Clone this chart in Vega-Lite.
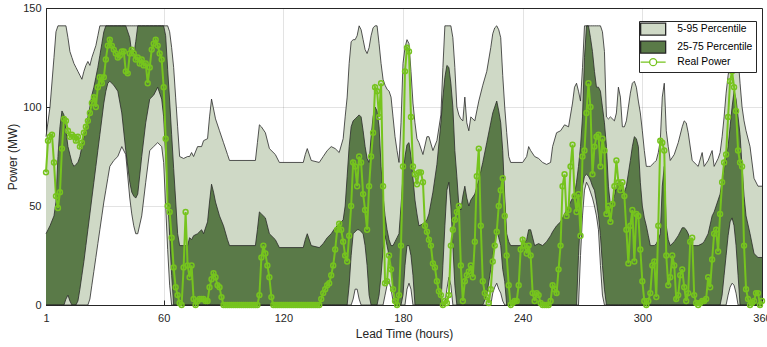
{
"$schema": "https://vega.github.io/schema/vega-lite/v6.json",
"width": 716, "height": 297,
"autosize": {"type": "none"},
"padding": {"left": 46, "top": 8, "right": 5, "bottom": 42},
"background": "white",
"config": {"font": "Liberation Sans", "view": {"stroke": "#262626", "strokeWidth": 1},
  "axis": {"labelFontSize": 11, "titleFontSize": 12, "titleFontWeight": "normal", "labelColor": "#262626", "titleColor": "#262626", "domainColor": "#262626", "tickColor": "#262626", "grid": true, "gridColor": "#262626", "gridOpacity": 0.13, "zindex": 1, "ticks": true, "tickSize": -5},
  "legend": {"orient": "none", "legendX": 593, "legendY": 13, "direction": "vertical",
    "fillColor": "white", "strokeColor": "#262626", "padding": 3, "rowPadding": 0,
    "labelFontSize": 10.3, "labelColor": "#000000", "labelOffset": 19, "symbolOffset": 6, "symbolSize": 64, "symbolOpacity": 1, "symbolStrokeWidth": 1.3}},
"datasets": {
"bands": [
{"h":1,"p5":0,"p25":0,"p75":36,"p95":85},{"h":3,"p5":0,"p25":0,"p75":40,"p95":100},{"h":5,"p5":0,"p25":0,"p75":45,"p95":125},{"h":6,"p5":0,"p25":0,"p75":52,"p95":138},{"h":7,"p5":0,"p25":0,"p75":75,"p95":141},{"h":8,"p5":0,"p25":0,"p75":90,"p95":141},{"h":9,"p5":0,"p25":0,"p75":98,"p95":141},{"h":10,"p5":0,"p25":0,"p75":96,"p95":141},{"h":11,"p5":0,"p25":3,"p75":88,"p95":141},{"h":12,"p5":0,"p25":5,"p75":80,"p95":135},{"h":13,"p5":0,"p25":2,"p75":76,"p95":128},{"h":14,"p5":0,"p25":0,"p75":72,"p95":125},{"h":15,"p5":0,"p25":0,"p75":70,"p95":122},{"h":16,"p5":0,"p25":0,"p75":71,"p95":120},{"h":17,"p5":0,"p25":2,"p75":72,"p95":118},{"h":18,"p5":0,"p25":8,"p75":75,"p95":116},{"h":19,"p5":0,"p25":15,"p75":80,"p95":114},{"h":20,"p5":0,"p25":22,"p75":85,"p95":118},{"h":21,"p5":0,"p25":30,"p75":90,"p95":121},{"h":22,"p5":0,"p25":38,"p75":95,"p95":123},{"h":23,"p5":3,"p25":46,"p75":100,"p95":121},{"h":24,"p5":10,"p25":54,"p75":106,"p95":125},{"h":25,"p5":17,"p25":62,"p75":110,"p95":128},{"h":26,"p5":24,"p25":70,"p75":115,"p95":131},{"h":27,"p5":31,"p25":78,"p75":120,"p95":136},{"h":28,"p5":38,"p25":86,"p75":126,"p95":141},{"h":29,"p5":45,"p25":94,"p75":132,"p95":141},{"h":30,"p5":52,"p25":102,"p75":138,"p95":141},{"h":31,"p5":58,"p25":108,"p75":141,"p95":141},{"h":32,"p5":64,"p25":112,"p75":141,"p95":141},{"h":33,"p5":70,"p25":113,"p75":141,"p95":141},{"h":35,"p5":73,"p25":111,"p75":141,"p95":141},{"h":37,"p5":75,"p25":108,"p75":141,"p95":141},{"h":39,"p5":80,"p25":97,"p75":141,"p95":141},{"h":41,"p5":76,"p25":78,"p75":141,"p95":141},{"h":43,"p5":54,"p25":62,"p75":135,"p95":141},{"h":44,"p5":46,"p25":57,"p75":127,"p95":141},{"h":45,"p5":40,"p25":55,"p75":126,"p95":141},{"h":46,"p5":36,"p25":54,"p75":133,"p95":141},{"h":47,"p5":36,"p25":56,"p75":141,"p95":141},{"h":49,"p5":45,"p25":75,"p75":141,"p95":141},{"h":51,"p5":62,"p25":92,"p75":141,"p95":141},{"h":53,"p5":78,"p25":104,"p75":141,"p95":141},{"h":55,"p5":80,"p25":106,"p75":141,"p95":141},{"h":57,"p5":82,"p25":110,"p75":141,"p95":141},{"h":59,"p5":80,"p25":104,"p75":141,"p95":141},{"h":60,"p5":72,"p25":95,"p75":141,"p95":141},{"h":61,"p5":50,"p25":75,"p75":136,"p95":141},{"h":62,"p5":28,"p25":55,"p75":119,"p95":141},{"h":63,"p5":10,"p25":35,"p75":103,"p95":138},{"h":64,"p5":0,"p25":15,"p75":86,"p95":130},{"h":65,"p5":0,"p25":0,"p75":69,"p95":120},{"h":66,"p5":0,"p25":0,"p75":53,"p95":105},{"h":67,"p5":0,"p25":0,"p75":36,"p95":90},{"h":68,"p5":0,"p25":0,"p75":30,"p95":75},{"h":70,"p5":0,"p25":0,"p75":30,"p95":74},{"h":72,"p5":0,"p25":0,"p75":30,"p95":75},{"h":73,"p5":0,"p25":0,"p75":34,"p95":75},{"h":74,"p5":0,"p25":0,"p75":33,"p95":77},{"h":75,"p5":0,"p25":0,"p75":35,"p95":75},{"h":77,"p5":0,"p25":0,"p75":36,"p95":80},{"h":79,"p5":0,"p25":0,"p75":38,"p95":80},{"h":80,"p5":0,"p25":0,"p75":36,"p95":83},{"h":82,"p5":0,"p25":0,"p75":42,"p95":84},{"h":83,"p5":0,"p25":0,"p75":52,"p95":95},{"h":84,"p5":0,"p25":0,"p75":61,"p95":104},{"h":85,"p5":0,"p25":0,"p75":57,"p95":99},{"h":86,"p5":0,"p25":0,"p75":52,"p95":94},{"h":88,"p5":0,"p25":0,"p75":45,"p95":88},{"h":90,"p5":0,"p25":0,"p75":40,"p95":82},{"h":92,"p5":0,"p25":0,"p75":33,"p95":76},{"h":93,"p5":0,"p25":0,"p75":30,"p95":73},{"h":106,"p5":0,"p25":0,"p75":30,"p95":73},{"h":107,"p5":0,"p25":0,"p75":38,"p95":82},{"h":108,"p5":0,"p25":0,"p75":47,"p95":91},{"h":109,"p5":0,"p25":0,"p75":46,"p95":90},{"h":111,"p5":0,"p25":0,"p75":44,"p95":87},{"h":113,"p5":0,"p25":0,"p75":36,"p95":79},{"h":116,"p5":0,"p25":0,"p75":33,"p95":76},{"h":118,"p5":0,"p25":0,"p75":29,"p95":72},{"h":130,"p5":0,"p25":0,"p75":29,"p95":72},{"h":131,"p5":0,"p25":0,"p75":33,"p95":76},{"h":132,"p5":0,"p25":0,"p75":36,"p95":79},{"h":134,"p5":0,"p25":0,"p75":30,"p95":73},{"h":138,"p5":0,"p25":0,"p75":29,"p95":72},{"h":140,"p5":0,"p25":0,"p75":31,"p95":75},{"h":142,"p5":0,"p25":0,"p75":34,"p95":78},{"h":144,"p5":0,"p25":0,"p75":36,"p95":80},{"h":146,"p5":0,"p25":0,"p75":39,"p95":79},{"h":148,"p5":0,"p25":0,"p75":41,"p95":77},{"h":150,"p5":0,"p25":0,"p75":43,"p95":84},{"h":151,"p5":0,"p25":0,"p75":50,"p95":95},{"h":152,"p5":0,"p25":0,"p75":65,"p95":105},{"h":153,"p5":0,"p25":10,"p75":80,"p95":122},{"h":154,"p5":0,"p25":25,"p75":90,"p95":133},{"h":155,"p5":3,"p25":36,"p75":93,"p95":134},{"h":156,"p5":8,"p25":37,"p75":94,"p95":134},{"h":157,"p5":8,"p25":38,"p75":95,"p95":136},{"h":158,"p5":3,"p25":38,"p75":96,"p95":141},{"h":159,"p5":0,"p25":37,"p75":95,"p95":139},{"h":160,"p5":0,"p25":36,"p75":88,"p95":134},{"h":161,"p5":0,"p25":30,"p75":80,"p95":129},{"h":162,"p5":0,"p25":20,"p75":74,"p95":127},{"h":163,"p5":0,"p25":5,"p75":72,"p95":130},{"h":164,"p5":0,"p25":0,"p75":85,"p95":136},{"h":165,"p5":0,"p25":0,"p75":95,"p95":140},{"h":166,"p5":0,"p25":0,"p75":100,"p95":141},{"h":167,"p5":0,"p25":0,"p75":98,"p95":141},{"h":168,"p5":0,"p25":5,"p75":90,"p95":132},{"h":169,"p5":0,"p25":15,"p75":70,"p95":122},{"h":170,"p5":0,"p25":28,"p75":55,"p95":114},{"h":171,"p5":5,"p25":35,"p75":45,"p95":111},{"h":172,"p5":10,"p25":30,"p75":38,"p95":109},{"h":173,"p5":12,"p25":25,"p75":33,"p95":108},{"h":174,"p5":8,"p25":18,"p75":30,"p95":105},{"h":175,"p5":2,"p25":10,"p75":30,"p95":95},{"h":176,"p5":0,"p25":0,"p75":32,"p95":85},{"h":177,"p5":0,"p25":0,"p75":34,"p95":78},{"h":178,"p5":0,"p25":0,"p75":36,"p95":72},{"h":179,"p5":0,"p25":0,"p75":50,"p95":92},{"h":180,"p5":0,"p25":5,"p75":65,"p95":122},{"h":181,"p5":0,"p25":20,"p75":75,"p95":130},{"h":182,"p5":8,"p25":30,"p75":81,"p95":134},{"h":183,"p5":11,"p25":30,"p75":82,"p95":132},{"h":184,"p5":8,"p25":25,"p75":75,"p95":118},{"h":185,"p5":0,"p25":15,"p75":64,"p95":102},{"h":186,"p5":0,"p25":0,"p75":53,"p95":92},{"h":187,"p5":0,"p25":0,"p75":46,"p95":84},{"h":188,"p5":0,"p25":0,"p75":40,"p95":82},{"h":190,"p5":0,"p25":0,"p75":41,"p95":76},{"h":192,"p5":0,"p25":0,"p75":43,"p95":85},{"h":193,"p5":0,"p25":0,"p75":46,"p95":85},{"h":195,"p5":0,"p25":0,"p75":57,"p95":78},{"h":197,"p5":0,"p25":0,"p75":71,"p95":83},{"h":199,"p5":0,"p25":0,"p75":92,"p95":96},{"h":200,"p5":0,"p25":20,"p75":105,"p95":120},{"h":201,"p5":0,"p25":40,"p75":115,"p95":141},{"h":202,"p5":8,"p25":58,"p75":121,"p95":141},{"h":203,"p5":14,"p25":62,"p75":120,"p95":141},{"h":204,"p5":10,"p25":50,"p75":112,"p95":141},{"h":205,"p5":0,"p25":30,"p75":100,"p95":135},{"h":206,"p5":0,"p25":10,"p75":78,"p95":120},{"h":207,"p5":0,"p25":0,"p75":65,"p95":100},{"h":208,"p5":0,"p25":0,"p75":50,"p95":96},{"h":209,"p5":0,"p25":0,"p75":48,"p95":94},{"h":210,"p5":0,"p25":0,"p75":55,"p95":93},{"h":211,"p5":0,"p25":0,"p75":60,"p95":105},{"h":212,"p5":0,"p25":0,"p75":54,"p95":92},{"h":213,"p5":0,"p25":0,"p75":50,"p95":88},{"h":214,"p5":0,"p25":0,"p75":53,"p95":95},{"h":216,"p5":0,"p25":0,"p75":56,"p95":93},{"h":218,"p5":0,"p25":0,"p75":63,"p95":103},{"h":220,"p5":0,"p25":0,"p75":72,"p95":111},{"h":222,"p5":0,"p25":5,"p75":82,"p95":118},{"h":224,"p5":0,"p25":18,"p75":92,"p95":130},{"h":225,"p5":6,"p25":25,"p75":97,"p95":137},{"h":226,"p5":9,"p25":32,"p75":100,"p95":140},{"h":227,"p5":11,"p25":38,"p75":103,"p95":141},{"h":228,"p5":8,"p25":34,"p75":98,"p95":139},{"h":229,"p5":6,"p25":30,"p75":92,"p95":135},{"h":230,"p5":2,"p25":18,"p75":78,"p95":116},{"h":231,"p5":0,"p25":12,"p75":55,"p95":100},{"h":232,"p5":0,"p25":0,"p75":36,"p95":87},{"h":233,"p5":0,"p25":0,"p75":32,"p95":75},{"h":234,"p5":0,"p25":0,"p75":30,"p95":72},{"h":240,"p5":0,"p25":0,"p75":30,"p95":72},{"h":242,"p5":0,"p25":0,"p75":33,"p95":75},{"h":243,"p5":0,"p25":0,"p75":38,"p95":80},{"h":244,"p5":0,"p25":0,"p75":38,"p95":78},{"h":246,"p5":0,"p25":0,"p75":30,"p95":75},{"h":248,"p5":0,"p25":0,"p75":31,"p95":74},{"h":250,"p5":0,"p25":0,"p75":30,"p95":72},{"h":252,"p5":0,"p25":0,"p75":32,"p95":71},{"h":254,"p5":0,"p25":0,"p75":35,"p95":72},{"h":255,"p5":0,"p25":0,"p75":37,"p95":80},{"h":257,"p5":0,"p25":0,"p75":40,"p95":87},{"h":259,"p5":0,"p25":0,"p75":42,"p95":88},{"h":261,"p5":0,"p25":0,"p75":46,"p95":91},{"h":263,"p5":0,"p25":0,"p75":50,"p95":90},{"h":265,"p5":0,"p25":0,"p75":54,"p95":102},{"h":266,"p5":0,"p25":0,"p75":56,"p95":110},{"h":267,"p5":0,"p25":0,"p75":62,"p95":112},{"h":268,"p5":0,"p25":25,"p75":70,"p95":108},{"h":269,"p5":25,"p25":45,"p75":80,"p95":103},{"h":270,"p5":45,"p25":60,"p75":95,"p95":120},{"h":271,"p5":58,"p25":65,"p75":125,"p95":141},{"h":272,"p5":62,"p25":66,"p75":141,"p95":141},{"h":273,"p5":60,"p25":65,"p75":141,"p95":141},{"h":274,"p5":57,"p25":63,"p75":135,"p95":141},{"h":275,"p5":54,"p25":60,"p75":128,"p95":141},{"h":276,"p5":50,"p25":58,"p75":118,"p95":141},{"h":277,"p5":45,"p25":52,"p75":110,"p95":141},{"h":278,"p5":38,"p25":45,"p75":110,"p95":141},{"h":279,"p5":20,"p25":35,"p75":108,"p95":141},{"h":280,"p5":5,"p25":20,"p75":100,"p95":138},{"h":281,"p5":0,"p25":8,"p75":92,"p95":128},{"h":282,"p5":0,"p25":0,"p75":80,"p95":95},{"h":283,"p5":0,"p25":0,"p75":60,"p95":94},{"h":284,"p5":0,"p25":0,"p75":50,"p95":95},{"h":286,"p5":0,"p25":0,"p75":55,"p95":93},{"h":287,"p5":0,"p25":0,"p75":60,"p95":97},{"h":288,"p5":0,"p25":0,"p75":62,"p95":110},{"h":289,"p5":0,"p25":0,"p75":63,"p95":105},{"h":290,"p5":0,"p25":0,"p75":56,"p95":90},{"h":291,"p5":0,"p25":0,"p75":57,"p95":90},{"h":292,"p5":0,"p25":0,"p75":60,"p95":93},{"h":294,"p5":0,"p25":0,"p75":73,"p95":107},{"h":295,"p5":0,"p25":0,"p75":80,"p95":112},{"h":296,"p5":0,"p25":0,"p75":85,"p95":113},{"h":297,"p5":0,"p25":0,"p75":84,"p95":110},{"h":298,"p5":0,"p25":0,"p75":80,"p95":103},{"h":299,"p5":0,"p25":0,"p75":62,"p95":97},{"h":300,"p5":0,"p25":0,"p75":50,"p95":88},{"h":301,"p5":0,"p25":0,"p75":44,"p95":78},{"h":302,"p5":0,"p25":0,"p75":40,"p95":70},{"h":303,"p5":0,"p25":0,"p75":35,"p95":70},{"h":304,"p5":0,"p25":0,"p75":30,"p95":70},{"h":306,"p5":0,"p25":0,"p75":30,"p95":72},{"h":307,"p5":0,"p25":0,"p75":31,"p95":73},{"h":308,"p5":0,"p25":0,"p75":33,"p95":77},{"h":309,"p5":0,"p25":0,"p75":36,"p95":83},{"h":310,"p5":0,"p25":0,"p75":60,"p95":105},{"h":311,"p5":0,"p25":0,"p75":70,"p95":112},{"h":312,"p5":0,"p25":0,"p75":40,"p95":88},{"h":313,"p5":0,"p25":0,"p75":33,"p95":80},{"h":314,"p5":0,"p25":0,"p75":30,"p95":73},{"h":316,"p5":0,"p25":0,"p75":32,"p95":76},{"h":318,"p5":0,"p25":0,"p75":35,"p95":82},{"h":320,"p5":0,"p25":0,"p75":39,"p95":90},{"h":321,"p5":0,"p25":0,"p75":39,"p95":93},{"h":322,"p5":0,"p25":0,"p75":38,"p95":92},{"h":323,"p5":0,"p25":0,"p75":36,"p95":87},{"h":325,"p5":0,"p25":0,"p75":30,"p95":73},{"h":327,"p5":0,"p25":0,"p75":30,"p95":71},{"h":328,"p5":0,"p25":0,"p75":30,"p95":70},{"h":330,"p5":0,"p25":0,"p75":31,"p95":77},{"h":331,"p5":0,"p25":0,"p75":32,"p95":70},{"h":333,"p5":0,"p25":0,"p75":36,"p95":73},{"h":335,"p5":0,"p25":0,"p75":45,"p95":78},{"h":336,"p5":0,"p25":0,"p75":47,"p95":70},{"h":338,"p5":0,"p25":0,"p75":53,"p95":74},{"h":339,"p5":0,"p25":0,"p75":56,"p95":77},{"h":340,"p5":0,"p25":5,"p75":63,"p95":85},{"h":341,"p5":0,"p25":15,"p75":68,"p95":95},{"h":342,"p5":0,"p25":25,"p75":74,"p95":107},{"h":343,"p5":5,"p25":35,"p75":80,"p95":116},{"h":344,"p5":9,"p25":42,"p75":90,"p95":122},{"h":345,"p5":11,"p25":44,"p75":100,"p95":128},{"h":346,"p5":10,"p25":40,"p75":108,"p95":132},{"h":347,"p5":6,"p25":30,"p75":104,"p95":132},{"h":348,"p5":0,"p25":15,"p75":95,"p95":125},{"h":349,"p5":0,"p25":0,"p75":86,"p95":112},{"h":350,"p5":0,"p25":0,"p75":70,"p95":100},{"h":351,"p5":0,"p25":0,"p75":55,"p95":93},{"h":352,"p5":0,"p25":0,"p75":45,"p95":88},{"h":354,"p5":0,"p25":0,"p75":36,"p95":80},{"h":356,"p5":0,"p25":0,"p75":26,"p95":64},{"h":358,"p5":0,"p25":0,"p75":24,"p95":60},{"h":360,"p5":0,"p25":0,"p75":24,"p95":60}
],
"real": [
{"h":1,"p":67},{"h":2,"p":83},{"h":3,"p":85},{"h":4,"p":86},{"h":5,"p":72},{"h":6,"p":55},{"h":7,"p":49},{"h":8,"p":57},{"h":9,"p":79},{"h":10,"p":94},{"h":11,"p":93},{"h":12,"p":88},{"h":13,"p":85},{"h":14,"p":86},{"h":15,"p":85},{"h":16,"p":83},{"h":17,"p":85},{"h":18,"p":80},{"h":19,"p":82},{"h":20,"p":87},{"h":21,"p":90},{"h":22,"p":93},{"h":23,"p":97},{"h":24,"p":102},{"h":25,"p":105},{"h":26,"p":100},{"h":27,"p":110},{"h":28,"p":115},{"h":29,"p":112},{"h":30,"p":115},{"h":31,"p":124},{"h":32,"p":131},{"h":33,"p":134},{"h":34,"p":131},{"h":35,"p":129},{"h":36,"p":127},{"h":37,"p":125},{"h":38,"p":126},{"h":39,"p":128},{"h":40,"p":128},{"h":41,"p":118},{"h":42,"p":117},{"h":43,"p":127},{"h":44,"p":129},{"h":45,"p":127},{"h":46,"p":124},{"h":47,"p":125},{"h":48,"p":122},{"h":49,"p":124},{"h":50,"p":121},{"h":51,"p":122},{"h":52,"p":112},{"h":53,"p":120},{"h":54,"p":129},{"h":55,"p":132},{"h":56,"p":134},{"h":57,"p":131},{"h":58,"p":127},{"h":59,"p":124},{"h":60,"p":110},{"h":61,"p":84},{"h":62,"p":50},{"h":63,"p":47},{"h":64,"p":34},{"h":65,"p":19},{"h":66,"p":9},{"h":67,"p":5},{"h":68,"p":1},{"h":69,"p":0},{"h":70,"p":19},{"h":71,"p":47},{"h":72,"p":20},{"h":73,"p":14},{"h":74,"p":20},{"h":75,"p":3},{"h":76,"p":0},{"h":77,"p":2},{"h":78,"p":3},{"h":79,"p":3},{"h":80,"p":3},{"h":81,"p":2},{"h":82,"p":2},{"h":83,"p":9},{"h":84,"p":13},{"h":85,"p":16},{"h":86,"p":14},{"h":87,"p":10},{"h":88,"p":9},{"h":89,"p":4},{"h":90,"p":0},{"h":91,"p":0},{"h":92,"p":0},{"h":93,"p":0},{"h":94,"p":0},{"h":95,"p":0},{"h":96,"p":0},{"h":97,"p":0},{"h":98,"p":0},{"h":99,"p":0},{"h":100,"p":0},{"h":101,"p":0},{"h":102,"p":0},{"h":103,"p":0},{"h":104,"p":0},{"h":105,"p":0},{"h":106,"p":0},{"h":107,"p":0},{"h":108,"p":5},{"h":109,"p":24},{"h":110,"p":30},{"h":111,"p":26},{"h":112,"p":20},{"h":113,"p":14},{"h":114,"p":4},{"h":115,"p":0},{"h":116,"p":0},{"h":117,"p":0},{"h":118,"p":0},{"h":119,"p":0},{"h":120,"p":0},{"h":121,"p":0},{"h":122,"p":0},{"h":123,"p":0},{"h":124,"p":0},{"h":125,"p":0},{"h":126,"p":0},{"h":127,"p":0},{"h":128,"p":0},{"h":129,"p":0},{"h":130,"p":0},{"h":131,"p":0},{"h":132,"p":0},{"h":133,"p":0},{"h":134,"p":0},{"h":135,"p":0},{"h":136,"p":0},{"h":137,"p":0},{"h":138,"p":0},{"h":139,"p":3},{"h":140,"p":6},{"h":141,"p":8},{"h":142,"p":10},{"h":143,"p":11},{"h":144,"p":15},{"h":145,"p":20},{"h":146,"p":28},{"h":147,"p":38},{"h":148,"p":41},{"h":149,"p":38},{"h":150,"p":32},{"h":151,"p":25},{"h":152,"p":22},{"h":153,"p":35},{"h":154,"p":50},{"h":155,"p":72},{"h":156,"p":70},{"h":157,"p":60},{"h":158,"p":75},{"h":159,"p":72},{"h":160,"p":56},{"h":161,"p":48},{"h":162,"p":38},{"h":163,"p":60},{"h":164,"p":75},{"h":165,"p":87},{"h":166,"p":110},{"h":167,"p":108},{"h":168,"p":95},{"h":169,"p":112},{"h":170,"p":60},{"h":171,"p":11},{"h":172,"p":12},{"h":173,"p":25},{"h":174,"p":18},{"h":175,"p":8},{"h":176,"p":2},{"h":177,"p":0},{"h":178,"p":5},{"h":179,"p":30},{"h":180,"p":70},{"h":181,"p":118},{"h":182,"p":130},{"h":183,"p":128},{"h":184,"p":95},{"h":185,"p":70},{"h":186,"p":66},{"h":187,"p":61},{"h":188,"p":67},{"h":189,"p":67},{"h":190,"p":62},{"h":191,"p":40},{"h":192,"p":37},{"h":193,"p":33},{"h":194,"p":30},{"h":195,"p":21},{"h":196,"p":19},{"h":197,"p":12},{"h":198,"p":7},{"h":199,"p":5},{"h":200,"p":0},{"h":201,"p":2},{"h":202,"p":1},{"h":203,"p":5},{"h":204,"p":30},{"h":205,"p":38},{"h":206,"p":43},{"h":207,"p":47},{"h":208,"p":50},{"h":209,"p":20},{"h":210,"p":2},{"h":211,"p":12},{"h":212,"p":15},{"h":213,"p":17},{"h":214,"p":20},{"h":215,"p":14},{"h":216,"p":32},{"h":217,"p":65},{"h":218,"p":79},{"h":219,"p":40},{"h":220,"p":12},{"h":221,"p":6},{"h":222,"p":4},{"h":223,"p":1},{"h":224,"p":8},{"h":225,"p":22},{"h":226,"p":30},{"h":227,"p":37},{"h":228,"p":50},{"h":229,"p":58},{"h":230,"p":64},{"h":231,"p":45},{"h":232,"p":25},{"h":233,"p":10},{"h":234,"p":0},{"h":235,"p":1},{"h":236,"p":2},{"h":237,"p":2},{"h":238,"p":10},{"h":239,"p":28},{"h":240,"p":33},{"h":241,"p":30},{"h":242,"p":26},{"h":243,"p":30},{"h":244,"p":25},{"h":245,"p":6},{"h":246,"p":2},{"h":247,"p":6},{"h":248,"p":5},{"h":249,"p":1},{"h":250,"p":0},{"h":251,"p":0},{"h":252,"p":0},{"h":253,"p":0},{"h":254,"p":2},{"h":255,"p":10},{"h":256,"p":8},{"h":257,"p":6},{"h":258,"p":18},{"h":259,"p":30},{"h":260,"p":60},{"h":261,"p":66},{"h":262,"p":45},{"h":263,"p":48},{"h":264,"p":70},{"h":265,"p":81},{"h":266,"p":55},{"h":267,"p":47},{"h":268,"p":56},{"h":269,"p":35},{"h":270,"p":75},{"h":271,"p":78},{"h":272,"p":97},{"h":273,"p":112},{"h":274,"p":100},{"h":275,"p":66},{"h":276,"p":80},{"h":277,"p":85},{"h":278,"p":86},{"h":279,"p":70},{"h":280,"p":84},{"h":281,"p":78},{"h":282,"p":46},{"h":283,"p":50},{"h":284,"p":42},{"h":285,"p":51},{"h":286,"p":60},{"h":287,"p":73},{"h":288,"p":62},{"h":289,"p":58},{"h":290,"p":62},{"h":291,"p":55},{"h":292,"p":38},{"h":293,"p":21},{"h":294,"p":40},{"h":295,"p":48},{"h":296,"p":22},{"h":297,"p":46},{"h":298,"p":45},{"h":299,"p":28},{"h":300,"p":12},{"h":301,"p":2},{"h":302,"p":0},{"h":303,"p":2},{"h":304,"p":6},{"h":305,"p":20},{"h":306,"p":22},{"h":307,"p":4},{"h":308,"p":40},{"h":309,"p":83},{"h":310,"p":82},{"h":311,"p":78},{"h":312,"p":25},{"h":313,"p":10},{"h":314,"p":14},{"h":315,"p":25},{"h":316,"p":20},{"h":317,"p":3},{"h":318,"p":5},{"h":319,"p":15},{"h":320,"p":18},{"h":321,"p":9},{"h":322,"p":2},{"h":323,"p":6},{"h":324,"p":32},{"h":325,"p":34},{"h":326,"p":5},{"h":327,"p":1},{"h":328,"p":0},{"h":329,"p":1},{"h":330,"p":2},{"h":331,"p":2},{"h":332,"p":3},{"h":333,"p":14},{"h":334,"p":9},{"h":335,"p":23},{"h":336,"p":36},{"h":337,"p":38},{"h":338,"p":27},{"h":339,"p":46},{"h":340,"p":62},{"h":341,"p":72},{"h":342,"p":76},{"h":343,"p":95},{"h":344,"p":113},{"h":345,"p":118},{"h":346,"p":110},{"h":347,"p":98},{"h":348,"p":78},{"h":349,"p":72},{"h":350,"p":70},{"h":351,"p":30},{"h":352,"p":8},{"h":353,"p":3},{"h":354,"p":0},{"h":355,"p":1},{"h":356,"p":2},{"h":357,"p":6},{"h":358,"p":6},{"h":359,"p":0},{"h":360,"p":2}
]
},
"encoding": {
  "x": {"field": "h", "type": "quantitative", "scale": {"domain": [1, 360], "nice": false, "zero": false},
        "axis": {"values": [1, 60, 120, 180, 240, 300, 360], "title": "Lead Time (hours)", "labelPadding": 12, "titlePadding": 5, "labelFlush": false}}
},
"layer": [
  {"data": {"name": "bands"}, "mark": {"type": "area", "color": "#cfd9c6", "opacity": 1},
   "encoding": {"y": {"field": "p5", "type": "quantitative", "scale": {"domain": [0, 150], "nice": false}, "axis": {"values": [0, 50, 100, 150], "title": "Power (MW)", "labelPadding": 10, "titlePadding": 3}},
                "y2": {"field": "p95"}}},
  {"data": {"name": "bands"}, "mark": {"type": "area", "color": "#5a7a48", "opacity": 1},
   "encoding": {"y": {"field": "p25", "type": "quantitative"}, "y2": {"field": "p75"}}},
  {"data": {"name": "bands"}, "mark": {"type": "line", "color": "#2a2a2a", "strokeWidth": 0.8}, "encoding": {"y": {"field": "p95", "type": "quantitative"}}},
  {"data": {"name": "bands"}, "mark": {"type": "line", "color": "#2a2a2a", "strokeWidth": 0.8}, "encoding": {"y": {"field": "p75", "type": "quantitative"}}},
  {"data": {"name": "bands"}, "mark": {"type": "line", "color": "#2a2a2a", "strokeWidth": 0.8}, "encoding": {"y": {"field": "p25", "type": "quantitative"}}},
  {"data": {"name": "bands"}, "mark": {"type": "line", "color": "#2a2a2a", "strokeWidth": 0.8}, "encoding": {"y": {"field": "p5", "type": "quantitative"}}},
  {"data": {"name": "real"},
   "mark": {"type": "line", "color": "#76c41e", "strokeWidth": 2, "point": {"filled": false, "size": 24, "strokeWidth": 1.5, "color": "#76c41e"}},
   "encoding": {"y": {"field": "p", "type": "quantitative"}}},
  {"data": {"name": "bands"},
   "transform": [{"fold": ["p95"], "as": ["series", "v"]}],
   "mark": {"type": "point", "filled": true, "opacity": 0, "strokeWidth": 1.3},
   "encoding": {"y": {"field": "v", "type": "quantitative"},
     "fill": {"field": "series", "type": "nominal",
       "scale": {"domain": ["p95", "p75", "p"], "range": ["#cfd9c6", "#5a7a48", "#ffffff"]},
       "legend": {"title": null, "labelExpr": "datum.label === 'p95' ? '5-95 Percentile' : datum.label === 'p75' ? '25-75 Percentile' : 'Real Power'"}},
     "stroke": {"field": "series", "type": "nominal",
       "scale": {"domain": ["p95", "p75", "p"], "range": ["#262626", "#262626", "#76c41e"]},
       "legend": {"title": null, "labelExpr": "datum.label === 'p95' ? '5-95 Percentile' : datum.label === 'p75' ? '25-75 Percentile' : 'Real Power'"}},
     "shape": {"field": "series", "type": "nominal",
       "scale": {"domain": ["p95", "p75", "p"], "range": ["M-3.125,-1.5H3.125V1.5H-3.125Z", "M-3.125,-1.5H3.125V1.5H-3.125Z", "M-3.125,0H-0.875M0.875,0H3.125M-0.875,0A0.875,0.875 0 1,0 0.875,0A0.875,0.875 0 1,0 -0.875,0"]},
       "legend": {"title": null, "labelExpr": "datum.label === 'p95' ? '5-95 Percentile' : datum.label === 'p75' ? '25-75 Percentile' : 'Real Power'"}}}}
]
}
